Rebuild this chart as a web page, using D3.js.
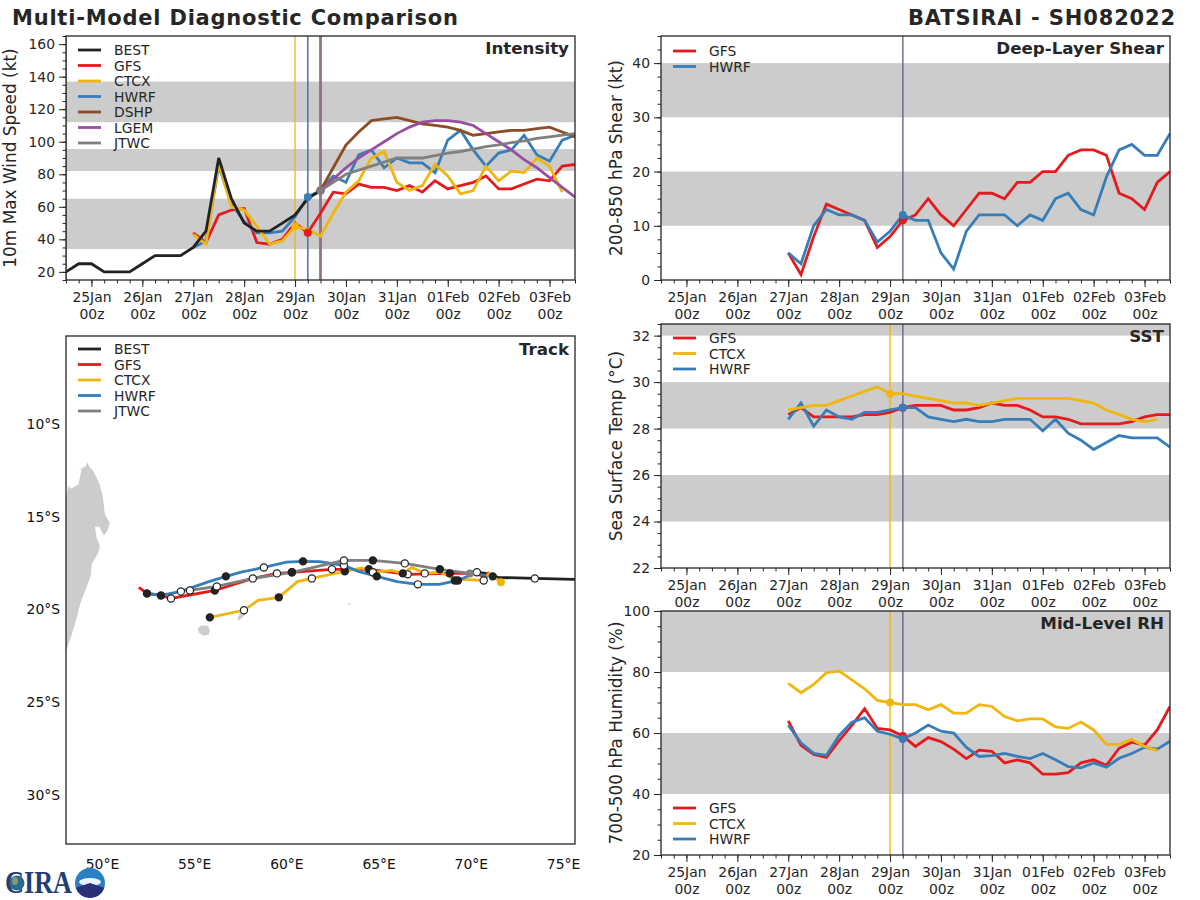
<!DOCTYPE html>
<html>
<head>
<meta charset="utf-8">
<script src="https://cdn.jsdelivr.net/npm/d3@7"></script>
<style>
  body { margin: 0; background: #fff; }
  svg { display: block; }
  text { font-family: "DejaVu Sans", sans-serif; fill: #262626; }
</style>
</head>
<body>
<script>
// day labels along the time axes
const tickDays = ['2022-01-25', '2022-01-26', '2022-01-27', '2022-01-28', '2022-01-29',
  '2022-01-30', '2022-01-31', '2022-02-01', '2022-02-02', '2022-02-03'];

// intensity, kt, 6 hourly
const bestStart = '2022-01-24T12:00Z';
const bestWind = [20, 25, 25, 20, 20, 20, 25, 30, 30, 30, 35, 45, 90, 65, 50, 45, 45, 50, 55, 65, 70];
const modelStart = '2022-01-27T00:00Z';
const gfsWind = [44, 38, 55, 58, 59, 38, 37, 40, 50, 44, 56, 69, 68, 74, 72, 72, 70, 73, 69, 76, 71, 73, 75, 79, 71, 71, 74, 77, 76, 85, 86];
const ctcxWind = [43, 37, 87, 60, 58, 48, 37, 39, 48, 46, 42, 56, 69, 76, 90, 94, 75, 70, 73, 86, 79, 68, 70, 85, 76, 82, 81, 90, 85, 69];
const hwrfWind = [35, 39, 85, 62, 51, 44, 44, 45, 54, 66, 70, 79, 75, 92, 95, 84, 90, 87, 87, 81, 101, 107, 95, 85, 93, 95, 104, 92, 88, 101, 104];
const lateStart = '2022-01-29T12:00Z';
const dshpWind = [70, 84, 98, 106, 113, 114, 115, 113, 111, 110, 109, 107, 104, 105, 106, 107, 107, 108, 109, 106, 103];
const lgemWind = [70, 77, 84, 90, 95, 100, 105, 109, 112, 113, 113, 112, 110, 105, 100, 95, 89, 84, 78, 72, 66];
const jtwcWind = [70, 75, 80, 82.5, 85, 87.5, 90, 90, 90, 91.5, 93, 94, 95.5, 97, 98, 99.5, 100.5, 102, 103, 104, 105];

// deep-layer shear, kt
const gfsShear = [5, 1, 8, 14, 13, 12, 11, 6, 8, 11, 12, 15, 12, 10, 13, 16, 16, 15, 18, 18, 20, 20, 23, 24, 24, 23, 16, 15, 13, 18, 20];
const hwrfShear = [5, 3, 10, 13, 12, 12, 11, 7, 9, 12, 11, 11, 5, 2, 9, 12, 12, 12, 10, 12, 11, 15, 16, 13, 12, 19, 24, 25, 23, 23, 27];

// sea surface temperature, C
const gfsSst = [28.6, 28.9, 28.5, 28.5, 28.5, 28.5, 28.6, 28.6, 28.7, 28.9, 29, 29, 29, 28.8, 28.8, 28.9, 29.1, 29, 29, 28.8, 28.5, 28.5, 28.4, 28.2, 28.2, 28.2, 28.2, 28.3, 28.5, 28.6, 28.6];
const ctcxSst = [28.8, 28.9, 29, 29, 29.2, 29.4, 29.6, 29.8, 29.5, 29.5, 29.4, 29.3, 29.2, 29.1, 29.1, 29, 29.1, 29.2, 29.3, 29.3, 29.3, 29.3, 29.3, 29.2, 29.1, 28.8, 28.6, 28.4, 28.3, 28.4];
const hwrfSst = [28.4, 29.1, 28.1, 28.8, 28.5, 28.4, 28.7, 28.7, 28.8, 28.9, 28.9, 28.5, 28.4, 28.3, 28.4, 28.3, 28.3, 28.4, 28.4, 28.4, 27.9, 28.4, 27.8, 27.5, 27.1, 27.4, 27.7, 27.6, 27.6, 27.6, 27.2];

// mid-level humidity, %
const gfsRh = [64, 56, 53, 52, 57.5, 62.5, 68, 61.5, 61, 59, 55.6, 58.5, 57.2, 54.7, 51.6, 54.4, 54, 50.2, 51.2, 50.2, 46.5, 46.5, 47, 50.2, 51.2, 49.4, 55, 57, 56, 61, 68.7];
const ctcxRh = [76.3, 73.2, 75.9, 79.8, 80.3, 77.4, 74.5, 70.7, 70, 69.3, 69.3, 67.6, 69.3, 66.5, 66.5, 69.3, 68.7, 65.4, 64, 64.6, 64.6, 62, 61.5, 63.6, 61, 56.3, 56.3, 57.9, 55.6, 54.2];
const hwrfRh = [62.6, 56.8, 53.3, 52.7, 59.2, 63.5, 65, 60.6, 59.6, 58, 60, 62.6, 60.6, 60, 55.3, 52.3, 52.6, 53.3, 52.3, 51.6, 53.3, 51.2, 49, 48.6, 50.2, 48.8, 51.7, 53.3, 55.3, 54.7, 57.3];

// when each forecast was started
const ctcxInit = '2022-01-29T00:00Z';
const gfsInit = '2022-01-29T06:00Z';
const hwrfInit = '2022-01-29T06:00Z';
const lateInit = '2022-01-29T12:00Z';

// tracks, east to west. mark: 0 none, 1 filled, 2 open
const bestLon = [75.64, 73.47, 71.5, 71.19, 70.8, 70.4];
const bestLat = [-18.38, -18.33, -18.28, -18.22, -18.06, -18.0];
const bestMark = [0, 2, 0, 1, 0, 0];
const gfsLon = [71.0, 70.7, 70.33, 68.86, 66.58, 64.47, 62.47, 60.3, 59.49, 58.18, 56.12, 53.74, 53.2, 52.44, 52.0];
const gfsLat = [-18.0, -18.25, -18.06, -18.06, -18.11, -17.84, -17.84, -18.0, -18.06, -18.33, -18.98, -19.41, -19.25, -19.14, -18.81];
const gfsMark = [0, 0, 0, 1, 2, 1, 2, 1, 2, 0, 1, 2, 1, 0, 0];
const ctcxLon = [71.63, 71.0, 70.7, 69.6, 69.13, 68.86, 68.32, 67.5, 66.8, 66.31, 65.7, 64.69, 64.1, 63.17, 61.38, 60.6, 59.59, 58.46, 57.7, 55.85];
const ctcxLat = [-18.54, -18.05, -18.44, -18.38, -18.44, -18.22, -18.0, -18.06, -17.74, -18.06, -17.9, -18.0, -17.76, -17.95, -18.33, -18.5, -19.35, -19.51, -20.05, -20.43];
const ctcxMark = [0, 0, 2, 0, 1, 0, 0, 2, 0, 1, 0, 2, 0, 1, 2, 0, 1, 0, 2, 1];
const hwrfLon = [70.9, 70.33, 69.3, 68.3, 67.13, 66.0, 64.9, 63.9, 63.12, 61.8, 60.9, 60.0, 58.78, 57.6, 56.72, 55.8, 54.28, 53.2, 52.44];
const hwrfLat = [-18.3, -18.0, -18.44, -18.65, -18.65, -18.5, -18.22, -17.95, -17.63, -17.43, -17.41, -17.45, -17.74, -17.98, -18.22, -18.5, -19.03, -19.25, -19.14];
const hwrfMark = [0, 2, 1, 0, 2, 0, 1, 0, 2, 0, 1, 0, 2, 0, 1, 0, 2, 0, 1];
const jtwcLon = [69.95, 68.32, 66.42, 64.69, 63.12, 60.3, 58.18, 56.23, 54.77];
const jtwcLat = [-18.06, -17.84, -17.52, -17.36, -17.36, -18.0, -18.33, -18.76, -18.98];
const jtwcMark = [0, 1, 2, 1, 2, 1, 2, 2, 2];

// coast outlines, lon then lat
const madagascarLon = [47.5, 48.09, 48.17, 48.3, 48.72, 48.9, 48.72, 49.13, 49.2, 49.31, 49.53, 49.85, 50.04, 50.16, 50.43, 50.29, 50.11, 49.85, 49.62, 49.71, 49.89, 49.8, 49.44, 49.39, 48.81, 48.66, 48.36, 48.09, 47.5];
const madagascarLat = [-13.89, -13.89, -13.32, -13.49, -13.26, -12.45, -12.49, -12.28, -12.06, -12.31, -12.55, -13.17, -13.89, -14.88, -15.33, -15.78, -16.01, -15.54, -15.54, -16.14, -16.59, -16.94, -17.57, -18.2, -19.73, -20.36, -21.35, -22.16, -24];
const reunionLon = [55.2, 55.45, 55.75, 55.85, 55.78, 55.5, 55.25];
const reunionLat = [-21.0, -20.85, -20.9, -21.15, -21.35, -21.42, -21.25];
const mauritiusLon = [57.35, 57.55, 57.78, 57.75, 57.55, 57.35];
const mauritiusLat = [-20.5, -20.05, -20.05, -20.3, -20.5, -20.6];
const rodriguesLon = [63.3, 63.5, 63.5, 63.3];
const rodriguesLat = [-19.72, -19.66, -19.72, -19.76];

const latTicks = [-10, -15, -20, -25, -30];
const lonTicks = [50, 55, 60, 65, 70, 75];

const colors = { BEST: '#222222', GFS: '#e41a1c', CTCX: '#f0b60e', HWRF: '#377eb8', DSHP: '#8c4c24', LGEM: '#984ea3', JTWC: '#7f7f7f' };
// stacking of the lines, lowest first; the legend keeps its own order
const drawOrder = ['GFS', 'HWRF', 'CTCX', 'DSHP', 'LGEM', 'JTWC', 'BEST'];

const svg = d3.select('body').append('svg').attr('width', 1200).attr('height', 900);
const defs = svg.append('defs');

const timeDomain = [new Date('2022-01-24T12:00Z'), new Date('2022-02-03T12:00Z')];
const sixHours = d3.utcHour.every(6).range(timeDomain[0], d3.utcHour.offset(timeDomain[1], 1));
const stamp = (start, i) => d3.utcHour.offset(new Date(start), i * 6);

function seriesPoints(start, values) {
  return values.map((v, i) => ({ t: stamp(start, i), v: v }));
}

function legend(g, names, x, y) {
  names.forEach((name, i) => {
    g.append('line')
      .attr('x1', x).attr('x2', x + 23)
      .attr('y1', y + i * 15.5).attr('y2', y + i * 15.5)
      .attr('stroke', colors[name]).attr('stroke-width', 2.8);
    g.append('text')
      .attr('x', x + 36).attr('y', y + i * 15.5 + 5)
      .style('font-size', '13.9px').text(name);
  });
}

function spines(g, w, h) {
  g.append('rect').attr('width', w).attr('height', h)
    .attr('fill', 'none').attr('stroke', '#262626').attr('stroke-width', 1.3);
}

// one time series panel
function timePanel(opt) {
  const g = svg.append('g').attr('transform', `translate(${opt.left},${opt.top})`);
  const w = 509, h = 244;
  const x = d3.scaleUtc().domain(timeDomain).range([0, w]);
  const y = d3.scaleLinear().domain(opt.domain).range([h, 0]);
  const clipId = 'clip' + opt.left + opt.top;
  defs.append('clipPath').attr('id', clipId).append('rect').attr('width', w).attr('height', h);
  const inner = g.append('g').attr('clip-path', `url(#${clipId})`);

  inner.selectAll('.band').data(opt.bands).join('rect')
    .attr('x', 0).attr('width', w)
    .attr('y', d => y(d[1])).attr('height', d => y(d[0]) - y(d[1]))
    .attr('fill', '#cccccc');

  opt.series.forEach(s => {
    inner.append('line')
      .attr('x1', x(new Date(s.init))).attr('x2', x(new Date(s.init)))
      .attr('y1', 0).attr('y2', h)
      .attr('stroke', colors[s.name]).attr('stroke-width', s.vw || 1.5).attr('opacity', s.vo || 0.6);
  });

  const line = d3.line().x(d => x(d.t)).y(d => y(d.v));
  const ordered = opt.series.slice().sort((a, b) => drawOrder.indexOf(a.name) - drawOrder.indexOf(b.name));
  ordered.forEach(s => {
    inner.append('path').datum(seriesPoints(s.start, s.values))
      .attr('d', line).attr('fill', 'none')
      .attr('stroke', colors[s.name]).attr('stroke-width', 2.8);
  });
  ordered.filter(s => s.init).forEach(s => {
    const p = seriesPoints(s.start, s.values).find(d => +d.t === +new Date(s.init));
    inner.append('circle').attr('cx', x(p.t)).attr('cy', y(p.v)).attr('r', 4)
      .attr('fill', colors[s.name]);
  });

  const xAxis = g.append('g').attr('transform', `translate(0,${h})`)
    .call(d3.axisBottom(x).tickValues(tickDays.map(d => new Date(d + 'T00:00Z')))
      .tickSize(7).tickPadding(5).tickFormat(d3.utcFormat('%d%b')));
  xAxis.selectAll('text').style('font-size', '13.9px').attr('fill', '#262626')
    .each(function() {
      const t = d3.select(this), label = t.text();
      t.text(null);
      t.append('tspan').attr('x', 0).attr('dy', '0.71em').text(label);
      t.append('tspan').attr('x', 0).attr('dy', '1.22em').text('00z');
    });
  g.append('g').attr('transform', `translate(0,${h})`)
    .call(d3.axisBottom(x).tickValues(sixHours).tickSize(3.5).tickFormat(''));

  const yAxis = g.append('g')
    .call(d3.axisLeft(y).tickValues(opt.ticks).tickSize(7).tickPadding(4).tickFormat(d3.format('d')));
  yAxis.selectAll('text').style('font-size', '13.9px');
  g.append('g').call(d3.axisLeft(y).tickValues(d3.range(opt.domain[0], opt.domain[1] + 0.001, opt.minor)).tickSize(3.5).tickFormat(''));
  g.selectAll('.domain').remove();
  g.selectAll('.tick line').attr('stroke', '#262626').attr('stroke-width', 1);
  spines(g, w, h);

  g.append('text').attr('transform', `translate(${opt.labelX},${h / 2}) rotate(-90)`)
    .attr('text-anchor', 'middle').style('font-size', '16.9px').text(opt.label);
  g.append('text').attr('x', w - 6).attr('y', 17.5).attr('text-anchor', 'end')
    .style('font-size', '16.7px').style('font-weight', 'bold').text(opt.title);
  legend(g, opt.series.map(s => s.name), 12, opt.legendY);
}

timePanel({
  left: 66, top: 36, domain: [15, 165], ticks: d3.range(20, 161, 20), minor: 5,
  bands: [[34, 65], [82, 95.5], [112, 137]],
  label: '10m Max Wind Speed (kt)', labelX: -50, title: 'Intensity', legendY: 14,
  series: [
    { name: 'BEST', start: bestStart, values: bestWind },
    { name: 'GFS', start: modelStart, values: gfsWind, init: gfsInit, vo: 0.3 },
    { name: 'CTCX', start: modelStart, values: ctcxWind, init: ctcxInit, vo: 0.85 },
    { name: 'HWRF', start: modelStart, values: hwrfWind, init: hwrfInit, vo: 0.95 },
    { name: 'DSHP', start: lateStart, values: dshpWind, init: lateInit, vw: 2.4 },
    { name: 'LGEM', start: lateStart, values: lgemWind, init: lateInit, vw: 2.4 },
    { name: 'JTWC', start: lateStart, values: jtwcWind, init: lateInit, vw: 2.4 }
  ]
});

timePanel({
  left: 661, top: 36, domain: [0, 45], ticks: d3.range(0, 41, 10), minor: 2.5,
  bands: [[10, 20], [30, 40]],
  label: '200-850 hPa Shear (kt)', labelX: -39, title: 'Deep-Layer Shear', legendY: 15,
  series: [
    { name: 'GFS', start: modelStart, values: gfsShear, init: gfsInit },
    { name: 'HWRF', start: modelStart, values: hwrfShear, init: hwrfInit }
  ]
});

timePanel({
  left: 661, top: 324, domain: [22, 32.5], ticks: d3.range(22, 33, 2), minor: 0.5,
  bands: [[24, 26], [28, 30], [32, 32.5]],
  label: 'Sea Surface Temp (°C)', labelX: -39, title: 'SST', legendY: 14,
  series: [
    { name: 'GFS', start: modelStart, values: gfsSst, init: gfsInit },
    { name: 'CTCX', start: modelStart, values: ctcxSst, init: ctcxInit, vo: 0.9 },
    { name: 'HWRF', start: modelStart, values: hwrfSst, init: hwrfInit }
  ]
});

timePanel({
  left: 661, top: 611, domain: [20, 100], ticks: d3.range(20, 101, 20), minor: 5,
  bands: [[40, 60], [80, 100]],
  label: '700-500 hPa Humidity (%)', labelX: -39, title: 'Mid-Level RH', legendY: 197,
  series: [
    { name: 'GFS', start: modelStart, values: gfsRh, init: gfsInit },
    { name: 'CTCX', start: modelStart, values: ctcxRh, init: ctcxInit, vo: 0.9 },
    { name: 'HWRF', start: modelStart, values: hwrfRh, init: hwrfInit }
  ]
});

// track map
function trackPanel() {
  const w = 509, h = 508;
  const g = svg.append('g').attr('transform', 'translate(66,336)');
  const x = d3.scaleLinear().domain([48.05, 75.65]).range([0, w]);
  const y = d3.scaleLinear().domain([-5.26, -32.65]).range([0, h]);
  defs.append('clipPath').attr('id', 'clipTrack').append('rect').attr('width', w).attr('height', h);
  const inner = g.append('g').attr('clip-path', 'url(#clipTrack)');

  const shape = d3.line().x(d => x(d[0])).y(d => y(d[1]));
  [[madagascarLon, madagascarLat], [reunionLon, reunionLat], [mauritiusLon, mauritiusLat], [rodriguesLon, rodriguesLat]].forEach(c => {
    inner.append('path').attr('d', shape(d3.zip(c[0], c[1])) + 'Z').attr('fill', '#cccccc');
  });

  const tracks = [
    ['BEST', bestLon, bestLat, bestMark],
    ['GFS', gfsLon, gfsLat, gfsMark],
    ['CTCX', ctcxLon, ctcxLat, ctcxMark],
    ['HWRF', hwrfLon, hwrfLat, hwrfMark],
    ['JTWC', jtwcLon, jtwcLat, jtwcMark]
  ];
  tracks.forEach(t => {
    inner.append('path').attr('d', shape(d3.zip(t[1], t[2])))
      .attr('fill', 'none').attr('stroke', colors[t[0]]).attr('stroke-width', 2.8);
  });
  tracks.forEach(t => {
    t[3].forEach((m, i) => {
      if (!m) return;
      inner.append('circle').attr('cx', x(t[1][i])).attr('cy', y(t[2][i])).attr('r', 3.6)
        .attr('fill', m === 1 ? '#222222' : '#ffffff')
        .attr('stroke', '#222222').attr('stroke-width', 1.2);
    });
  });
  // start of the forecasts
  inner.append('circle').attr('cx', x(ctcxLon[0])).attr('cy', y(ctcxLat[0])).attr('r', 4).attr('fill', colors.CTCX);
  inner.append('circle').attr('cx', x(jtwcLon[0])).attr('cy', y(jtwcLat[0])).attr('r', 4).attr('fill', colors.JTWC);

  const la = g.append('g').call(d3.axisLeft(y).tickValues(latTicks).tickSize(0).tickPadding(6).tickFormat(d => Math.abs(d) + '°S'));
  const lo = g.append('g').attr('transform', `translate(0,${h})`)
    .call(d3.axisBottom(x).tickValues(lonTicks).tickSize(0).tickPadding(15).tickFormat(d => d + '°E'));
  g.selectAll('.domain').remove();
  la.selectAll('text').style('font-size', '13.9px').style('fill', '#111');
  lo.selectAll('text').style('font-size', '13.9px').style('fill', '#111');
  spines(g, w, h);

  g.append('text').attr('x', w - 6).attr('y', 19).attr('text-anchor', 'end')
    .style('font-size', '16.7px').style('font-weight', 'bold').text('Track');
  legend(g, ['BEST', 'GFS', 'CTCX', 'HWRF', 'JTWC'], 12, 13);
}
trackPanel();

// page titles
svg.append('text').attr('x', 12).attr('y', 25).attr('textLength', 446)
  .style('font-size', '21px').style('font-weight', 'bold').text('Multi-Model Diagnostic Comparison');
svg.append('text').attr('x', 1176).attr('y', 25).attr('text-anchor', 'end')
  .style('font-size', '21px').style('font-weight', 'bold').style('letter-spacing', '0.85px').text('BATSIRAI - SH082022');

// logo
const logo = svg.append('g');
logo.append('text').attr('transform', 'translate(5,892.5) scale(1,1.2)').attr('textLength', 67)
  .attr('lengthAdjust', 'spacingAndGlyphs')
  .style('font-family', '"Liberation Serif", serif').style('font-weight', 'bold')
  .style('font-size', '27px').style('fill', '#1f3f76').text('CIRA');
logo.append('circle').attr('cx', 17).attr('cy', 883).attr('r', 7.5).attr('fill', '#2a6a8f');
logo.append('ellipse').attr('cx', 15).attr('cy', 881).attr('rx', 3).attr('ry', 4).attr('fill', '#7f9a78');
logo.append('circle').attr('cx', 90).attr('cy', 883).attr('r', 15).attr('fill', '#2a80c4');
logo.append('ellipse').attr('cx', 90).attr('cy', 882).attr('rx', 11).attr('ry', 4).attr('fill', '#e8f2fa');
logo.append('path').attr('d', d3.arc()({ innerRadius: 0, outerRadius: 15, startAngle: Math.PI * 0.6, endAngle: Math.PI * 1.4 }))
  .attr('transform', 'translate(90,883)').attr('fill', '#2b2f78');
</script>
</body>
</html>
